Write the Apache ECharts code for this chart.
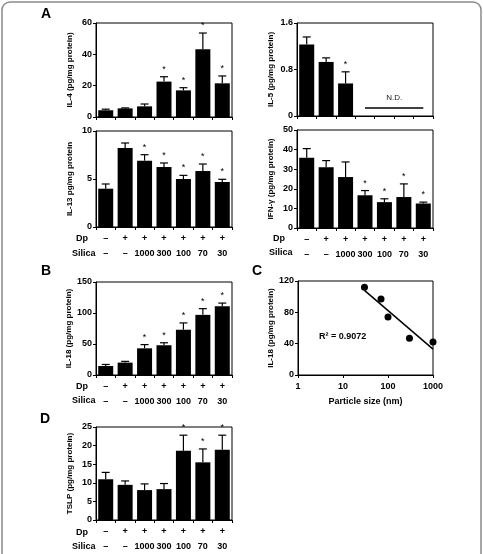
<!DOCTYPE html>
<html>
<head>
<meta charset="utf-8">
<script src="https://cdn.jsdelivr.net/npm/echarts@6/dist/echarts.min.js"></script>
<style>
  html, body { margin: 0; padding: 0; background: #fff; }
  #chart { width: 483px; height: 554px; }
</style>
</head>
<body>
<div id="chart"></div>
<script>
// treatment groups
var dp = ['–', '+', '+', '+', '+', '+', '+'];
var silica = ['–', '–', '1000', '300', '100', '70', '30'];

// A: cytokines (mean, sem, significance)
var il4Mean = [4.3, 5.5, 6.8, 22.6, 17.0, 43.2, 21.5];
var il4Sem = [0.7, 0.3, 1.5, 3.1, 1.7, 10.4, 4.7];
var il4Sig = [0, 0, 0, 1, 1, 1, 1];

var il5Mean = [1.23, 0.93, 0.56, null, null, null, null];
var il5Sem = [0.13, 0.07, 0.2, null, null, null, null];
var il5Sig = [0, 0, 1, 0, 0, 0, 0];
var il5ND = 0.15;

var il13Mean = [3.99, 8.23, 6.91, 6.25, 5.0, 5.83, 4.69];
var il13Sem = [0.49, 0.52, 0.62, 0.42, 0.38, 0.73, 0.28];
var il13Sig = [0, 0, 1, 1, 1, 1, 1];

var ifnMean = [35.8, 31.0, 26.0, 16.7, 13.2, 15.8, 12.5];
var ifnSem = [4.7, 3.4, 7.7, 2.4, 1.7, 6.7, 0.7];
var ifnSig = [0, 0, 0, 1, 1, 1, 1];

// B: IL-18
var il18Mean = [14.5, 20, 43, 48, 73, 97, 111];
var il18Sem = [2.5, 2, 6, 4, 11, 10, 5];
var il18Sig = [0, 0, 1, 1, 1, 1, 1];

// C: IL-18 vs particle size
var particleSize = [30, 70, 100, 300, 1000];
var il18BySize = [112, 97, 74, 47, 42];
var trendLine = [[30, 108], [1000, 33]];

// D: TSLP
var tslpMean = [10.95, 9.45, 8.04, 8.3, 18.6, 15.5, 18.9];
var tslpSem = [1.85, 1.05, 1.66, 1.5, 4.2, 3.6, 3.9];
var tslpSig = [0, 0, 0, 0, 1, 1, 1];

var FONT = 'Liberation Sans';
var catKeys = dp.map(function (d, i) { return d + '|' + silica[i]; });

var grids = [
  { left: 96, top: 23, width: 136, height: 94 },   // IL-4
  { left: 297, top: 23, width: 136, height: 93 },  // IL-5
  { left: 96, top: 131, width: 136, height: 96 },  // IL-13
  { left: 297, top: 130, width: 136, height: 98 }, // IFN
  { left: 96, top: 282, width: 136, height: 93 },  // IL-18
  { left: 298, top: 281, width: 135, height: 94 }, // C
  { left: 96, top: 427, width: 136, height: 95 }   // TSLP
];

function catAxis(gi, showLabels) {
  return {
    type: 'category', gridIndex: gi, data: catKeys,
    axisLine: { lineStyle: { color: '#000', width: 1 } },
    axisTick: { show: true, length: 3, interval: 0, lineStyle: { color: '#000' } },
    axisLabel: {
      show: showLabels, interval: 0, margin: 4, color: '#000',
      fontFamily: FONT, fontWeight: 'bold', fontSize: 9, lineHeight: 15,
      formatter: function (v) { return v.split('|').join('\n'); }
    }
  };
}

function valAxis(gi, name, max, step) {
  return {
    type: 'value', gridIndex: gi, min: 0, max: max, interval: step,
    name: name, nameLocation: 'middle', nameRotate: 90, nameGap: 22,
    nameTextStyle: { fontFamily: FONT, fontWeight: 'bold', fontSize: 8, color: '#000' },
    splitLine: { show: false },
    axisLine: { show: true, lineStyle: { color: '#000' } },
    axisTick: { show: true, length: 3, lineStyle: { color: '#000' } },
    axisLabel: { fontFamily: FONT, fontWeight: 'bold', fontSize: 9, color: '#000', margin: 4 }
  };
}

function errRender(params, api) {
  var x = api.value(0), m = api.value(1), s = api.value(2), sig = api.value(3);
  var p0 = api.coord([x, m]);
  var p1 = api.coord([x, m + s]);
  var kids = [
    { type: 'line', shape: { x1: p0[0], y1: p0[1], x2: p1[0], y2: p1[1] }, style: { stroke: '#000', lineWidth: 1.2 } },
    { type: 'line', shape: { x1: p1[0] - 4, y1: p1[1], x2: p1[0] + 4, y2: p1[1] }, style: { stroke: '#000', lineWidth: 1.2 } }
  ];
  if (sig) {
    kids.push({ type: 'text', x: p1[0], y: p1[1] - 3,
      style: { text: '*', fill: '#000', font: '9px ' + FONT, align: 'center', verticalAlign: 'bottom' } });
  }
  return { type: 'group', children: kids };
}

function barSeries(gi, mean, extra) {
  var s = {
    type: 'bar', xAxisIndex: gi, yAxisIndex: gi, data: mean,
    barWidth: 15, itemStyle: { color: '#000' }, silent: true
  };
  if (extra) Object.assign(s, extra);
  return s;
}

function errSeries(gi, mean, sem, sig) {
  var d = [];
  mean.forEach(function (m, i) {
    if (m != null) d.push([i, m, sem[i], sig[i]]);
  });
  return { type: 'custom', xAxisIndex: gi, yAxisIndex: gi, data: d, renderItem: errRender, silent: true, z: 3 };
}

var chart = echarts.init(document.getElementById('chart'), null, { renderer: 'canvas' });

var boldTxt = { fontFamily: FONT, fontWeight: 'bold', fill: '#000' };

function rowLabels(x, y1, y2) {
  return [
    { type: 'text', left: x, top: y1, style: Object.assign({ text: 'Dp', fontSize: 9 }, boldTxt) },
    { type: 'text', left: x - 4, top: y2, style: Object.assign({ text: 'Silica', fontSize: 9 }, boldTxt) }
  ];
}

var graphics = [
  { type: 'rect', shape: { x: 2, y: 2, width: 479, height: 570, r: 8 },
    style: { fill: 'none', stroke: '#8a8a8a', lineWidth: 1.5 }, silent: true },
  { type: 'text', left: 41, top: 7, style: Object.assign({ text: 'A', fontSize: 14 }, boldTxt) },
  { type: 'text', left: 41, top: 264, style: Object.assign({ text: 'B', fontSize: 14 }, boldTxt) },
  { type: 'text', left: 252, top: 264, style: Object.assign({ text: 'C', fontSize: 14 }, boldTxt) },
  { type: 'text', left: 40, top: 412, style: Object.assign({ text: 'D', fontSize: 14 }, boldTxt) },
  { type: 'text', left: 319, top: 332, style: Object.assign({ text: 'R² = 0.9072', fontSize: 9 }, boldTxt) }
]
  .concat(rowLabels(76, 234, 249))
  .concat(rowLabels(273, 234, 248))
  .concat(rowLabels(76, 382, 396))
  .concat(rowLabels(76, 528, 542));

var option = {
  animation: false,
  backgroundColor: '#fff',
  grid: grids.map(function (g) {
    return Object.assign({ show: true, borderColor: '#000', borderWidth: 1, backgroundColor: 'transparent' }, g);
  }),
  xAxis: [
    catAxis(0, false),
    catAxis(1, false),
    catAxis(2, true),
    catAxis(3, true),
    catAxis(4, true),
    {
      type: 'log', gridIndex: 5, logBase: 10, min: 1, max: 1000,
      name: 'Particle size (nm)', nameLocation: 'middle', nameGap: 22,
      nameTextStyle: { fontFamily: FONT, fontWeight: 'bold', fontSize: 9, color: '#000' },
      splitLine: { show: false },
      axisLine: { lineStyle: { color: '#000' } },
      axisTick: { show: true, length: 3, lineStyle: { color: '#000' } },
      minorTick: { show: false },
      axisLabel: {
        fontFamily: FONT, fontWeight: 'bold', fontSize: 9, color: '#000', margin: 7,
        formatter: function (v) { return String(Math.round(v)); }
      }
    },
    catAxis(6, true)
  ],
  yAxis: [
    valAxis(0, 'IL-4 (pg/mg protein)', 60, 20),
    valAxis(1, 'IL-5 (pg/mg protein)', 1.6, 0.8),
    valAxis(2, 'IL-13 pg/mg protein', 10, 5),
    valAxis(3, 'IFN-γ (pg/mg protein)', 50, 10),
    valAxis(4, 'IL-18 (pg/mg protein)', 150, 50),
    valAxis(5, 'IL-18 (pg/mg protein)', 120, 40),
    valAxis(6, 'TSLP (pg/mg protein)', 25, 5)
  ],
  series: [
    barSeries(0, il4Mean), errSeries(0, il4Mean, il4Sem, il4Sig),
    barSeries(1, il5Mean, {
      markLine: {
        silent: true, symbol: 'none',
        lineStyle: { color: '#000', width: 1.5, type: 'solid' },
        label: { show: true, position: 'middle', formatter: 'N.D.', fontFamily: FONT, fontSize: 8, color: '#222', distance: 5 },
        data: [[{ coord: [3, il5ND] }, { coord: [6, il5ND] }]]
      }
    }),
    errSeries(1, il5Mean, il5Sem, il5Sig),
    barSeries(2, il13Mean), errSeries(2, il13Mean, il13Sem, il13Sig),
    barSeries(3, ifnMean), errSeries(3, ifnMean, ifnSem, ifnSig),
    barSeries(4, il18Mean), errSeries(4, il18Mean, il18Sem, il18Sig),
    {
      type: 'scatter', xAxisIndex: 5, yAxisIndex: 5, symbolSize: 7,
      itemStyle: { color: '#000', opacity: 1 }, z: 3,
      data: particleSize.map(function (s, i) { return [s, il18BySize[i]]; })
    },
    {
      type: 'line', xAxisIndex: 5, yAxisIndex: 5, data: trendLine,
      showSymbol: false, symbol: 'none', lineStyle: { color: '#000', width: 1.5 }
    },
    barSeries(6, tslpMean), errSeries(6, tslpMean, tslpSem, tslpSig)
  ],
  graphic: graphics
};

chart.setOption(option);
</script>
</body>
</html>
